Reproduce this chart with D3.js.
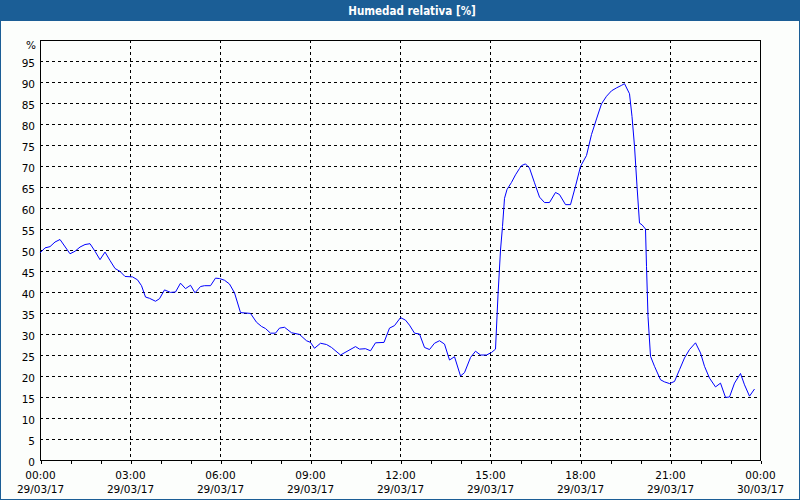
<!DOCTYPE html>
<html>
<head>
<meta charset="utf-8">
<script src="https://cdn.jsdelivr.net/npm/d3@7/dist/d3.min.js"></script>
<style>
  html, body { margin: 0; padding: 0; background: #fcfefc; }
  svg { display: block; }
</style>
</head>
<body>
<svg id="chart" width="800" height="500"></svg>
<script>
const title = "Humedad relativa [%]";
const unitLabel = "%";
// minutes since 29/03/17 00:00
const times = [0,10,20,30,40,60,70,80,90,100,110,120,130,140,150,160,170,185,195,203,211,219,231,239,249,261,271,281,291,301,310,321,329,341,351,359,369,379,389,401,421,433,443,451,461,471,479,489,503,519,533,541,549,561,573,583,601,616,631,639,651,661,671,688,699,709,721,731,739,749,759,769,779,789,799,809,819,829,841,849,861,871,881,893,903,911,916,921,925,929,934,943,951,959,963,971,979,989,999,1009,1019,1031,1039,1051,1061,1071,1081,1093,1103,1113,1123,1133,1143,1153,1163,1169,1179,1184,1189,1194,1199,1204,1211,1213,1216,1221,1229,1241,1249,1259,1269,1279,1289,1299,1311,1321,1329,1339,1351,1361,1371,1379,1389,1401,1409,1419,1429];
const humidity = [49.3,50.5,50.8,51.9,52.5,49.1,49.7,50.7,51.3,51.5,49.7,47.7,49.5,47.5,45.6,44.9,43.7,43.6,42.9,41.5,38.8,38.5,37.8,38.4,40.5,39.9,40.0,42.1,40.8,41.6,39.8,41.3,41.5,41.5,43.3,43.2,42.8,41.9,39.8,35.1,34.9,32.8,31.8,31.3,30.2,30.2,31.4,31.6,30.3,29.9,28.4,28.0,26.6,27.8,27.5,26.8,25.0,26.0,27.0,26.4,26.5,26.0,27.9,28.0,31.4,32.0,33.9,33.3,32.1,30.2,30.0,26.8,26.3,27.8,28.4,27.6,23.8,24.6,20.0,20.8,24.4,25.9,25.0,25.0,25.6,26.4,39.3,50.0,55.6,62.3,64.4,66.1,67.9,69.4,70.1,70.5,69.5,66.0,62.6,61.3,61.3,63.7,63.2,60.8,60.8,65.2,69.9,72.5,77.5,81.2,84.8,86.6,87.9,88.6,89.2,89.6,87.2,81.8,74.7,65.2,56.4,56.0,55.0,46.1,34.2,24.7,22.3,19.1,18.6,18.2,18.7,21.5,24.3,26.3,27.9,25.5,22.3,19.5,17.4,18.3,14.9,15.0,18.3,20.6,17.9,15.2,16.9];
const yTicks = [0,5,10,15,20,25,30,35,40,45,50,55,60,65,70,75,80,85,90,95];
const xTickHours = [0,1,2,3,4,5,6,7,8,9,10,11,12,13,14,15,16,17,18,19,20,21,22,23,24];
const xLabelHours = [0,3,6,9,12,15,18,21,24];
const xLabelTimes = ["00:00","03:00","06:00","09:00","12:00","15:00","18:00","21:00","00:00"];
const xLabelDates = ["29/03/17","29/03/17","29/03/17","29/03/17","29/03/17","29/03/17","29/03/17","29/03/17","30/03/17"];

const W = 800, H = 500;
const L = 40, R = 760, T = 40, B = 460;
const svg = d3.select("#chart");
const font = "'DejaVu Sans', Verdana, sans-serif";

svg.append("rect").attr("x",0).attr("y",0).attr("width",W).attr("height",H).attr("fill","#fcfefc");
// outer frame
svg.append("rect").attr("x",0.5).attr("y",0.5).attr("width",W-1).attr("height",H-1)
  .attr("fill","none").attr("stroke","#1b5e96").attr("stroke-width",1);
// title bar
svg.append("rect").attr("x",0).attr("y",0).attr("width",W).attr("height",21).attr("fill","#1b5e96");
svg.append("text").attr("x",412).attr("y",15).attr("text-anchor","middle")
  .attr("fill","#ffffff").attr("font-family","'DejaVu Sans Condensed', 'DejaVu Sans', sans-serif")
  .attr("font-weight","bold").attr("font-size","11.5px").text(title);

const x = d3.scaleLinear().domain([0, 1440]).range([L, R]);
const y = d3.scaleLinear().domain([0, 100]).range([B, T]);

// horizontal gridlines
const gy = svg.append("g").attr("shape-rendering","crispEdges");
gy.selectAll("line").data(yTicks.filter(v => v > 0)).join("line")
  .attr("x1", L).attr("x2", R)
  .attr("y1", d => Math.round(y(d)) + 0.5).attr("y2", d => Math.round(y(d)) + 0.5)
  .attr("stroke","#000").attr("stroke-dasharray","3,3");
// vertical gridlines
const gx = svg.append("g").attr("shape-rendering","crispEdges");
gx.selectAll("line").data(xLabelHours.filter(h => h > 0 && h < 24)).join("line")
  .attr("x1", d => Math.round(x(d*60)) + 0.5).attr("x2", d => Math.round(x(d*60)) + 0.5)
  .attr("y1", T).attr("y2", B)
  .attr("stroke","#000").attr("stroke-dasharray","3,3");

// plot frame
svg.append("rect").attr("x",L+0.5).attr("y",T+0.5).attr("width",R-L).attr("height",B-T)
  .attr("fill","none").attr("stroke","#000").attr("shape-rendering","crispEdges");

// y axis
const yAxis = d3.axisLeft(y).tickValues(yTicks).tickSize(0).tickPadding(5).tickFormat(d3.format("d"));
const ya = svg.append("g").attr("transform",`translate(${L},0.5)`).call(yAxis);
ya.select(".domain").remove();
ya.selectAll("text").attr("font-family",font).attr("font-size","10.5px").attr("fill","#000").attr("dy","0.45em");
svg.append("text").attr("x",36).attr("y",49).attr("text-anchor","end")
  .attr("font-family",font).attr("font-size","10.5px").attr("fill","#000").text(unitLabel);

// x axis ticks
const xAxis = d3.axisBottom(x).tickValues(xTickHours.map(h => h*60)).tickSize(3).tickFormat("");
const xa = svg.append("g").attr("transform",`translate(0.5,${B+0.5})`).attr("shape-rendering","crispEdges").call(xAxis);
xa.select(".domain").remove();
xa.selectAll("line").attr("stroke","#000");

// x labels
const lab = svg.append("g").attr("font-family",font).attr("font-size","10.5px").attr("fill","#000").attr("text-anchor","middle");
lab.selectAll("text").data(xLabelHours).join("text")
  .attr("x", (d) => x(d*60) + 0.5)
  .attr("y", 479)
  .each(function(d, i) {
    const t = d3.select(this);
    t.append("tspan").attr("x", x(d*60) + 0.5).attr("y", 479).text(xLabelTimes[i]);
    t.append("tspan").attr("x", x(d*60) + 0.5).attr("y", 493).text(xLabelDates[i]);
  });

// data line
const line = d3.line().x((d,i) => x(times[i])).y(d => y(d));
svg.append("path").datum(humidity).attr("d", line)
  .attr("fill","none").attr("stroke","#0000ff").attr("stroke-width",1);
</script>
</body>
</html>
